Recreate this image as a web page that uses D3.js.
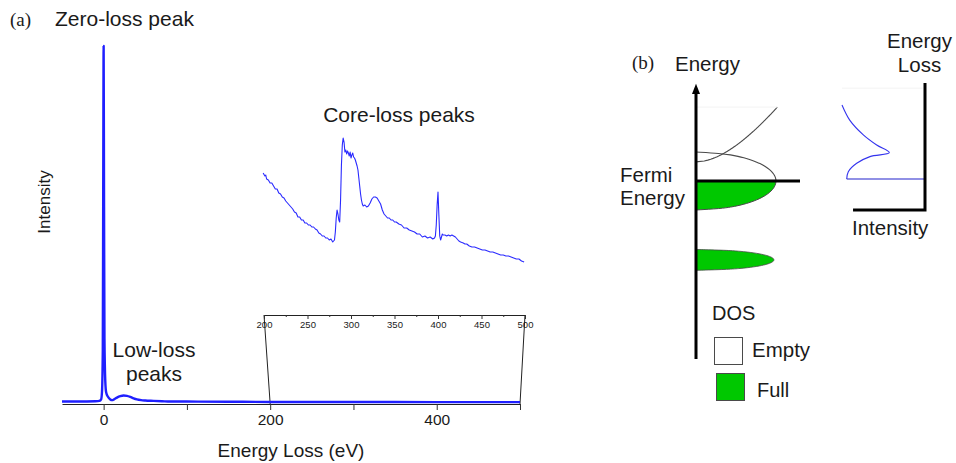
<!DOCTYPE html>
<html>
<head>
<meta charset="utf-8">
<script src="https://cdn.jsdelivr.net/npm/d3@7"></script>
<style>
  html, body { margin: 0; padding: 0; background: #fff; }
  svg { display: block; }
  text { font-family: "Liberation Sans", Arial, sans-serif; fill: #1a1a1a; }
  .serif { font-family: "Liberation Serif", "Times New Roman", serif; }
</style>
</head>
<body>
<svg id="chart" width="956" height="463"></svg>
<script>
// ---------- (a) full EELS spectrum ----------
const lowE = [-50, -30, -10, -5, -3, -2, -1, -0.5, 0, 0.5, 1, 2, 3, 5, 8, 10, 13, 16, 20, 24, 28, 32, 36, 40, 45, 50, 60, 70, 80, 100, 150, 200, 300, 400, 500];
const lowI = [0.4, 0.4, 0.5, 0.6, 1, 3, 15, 60, 100, 55, 18, 6, 3, 1.8, 1.0, 0.8, 1.1, 1.5, 1.9, 2.1, 2.0, 1.7, 1.3, 1.0, 0.8, 0.7, 0.6, 0.5, 0.4, 0.4, 0.35, 0.3, 0.3, 0.25, 0.25];
const mainTicks = [0, 100, 200, 300, 400, 500];
const mainLabels = [0, 200, 400];

// ---------- core-loss region (200–500 eV) ----------
const coreE = [199, 201, 202, 203, 205, 207, 209, 211, 213, 215, 217, 219, 221, 223, 225, 227, 229, 231, 233, 235, 237, 239, 241, 243, 245, 247, 249, 251, 253, 255, 257, 259, 261, 263, 265, 267, 269, 271, 273, 275, 277, 279, 281, 282, 283, 284, 285, 286, 287, 288, 289, 290, 291, 292, 293, 294, 295, 296, 297, 298, 299, 300, 301, 302, 303, 304, 305, 306, 307, 308, 309, 310, 311, 312, 313, 314, 316, 318, 320, 322, 324, 326, 328, 330, 332, 334, 336, 338, 340, 342, 344, 346, 348, 350, 352, 355, 358, 361, 364, 367, 370, 373, 376, 379, 382, 385, 388, 391, 394, 396, 397, 398, 399, 400, 401, 402, 403, 404, 405, 406, 408, 410, 412, 414, 416, 418, 420, 422, 424, 426, 429, 431, 433, 436, 439, 442, 445, 448, 451, 454, 457, 460, 463, 466, 469, 472, 475, 478, 481, 484, 487, 490, 493, 496, 499];
const coreI = [97, 94, 95, 91, 90, 87, 87, 84, 81, 81, 77, 76, 73, 72, 69, 67, 65, 63, 61, 58, 57, 53, 53, 50, 50, 47, 47, 45, 45, 43, 43, 41, 40, 37, 36, 34, 34, 32, 32, 30, 31, 28, 30, 38, 52, 60, 56, 50, 48, 70, 105, 125, 132, 128, 118, 120, 116, 119, 117, 114, 118, 112, 115, 117, 113, 112, 110, 107, 104, 100, 92, 84, 76, 70, 66, 64, 65, 63, 64, 67, 71, 73, 73, 72, 69, 66, 60, 56, 54, 52, 52, 50, 50, 48, 48, 46, 45, 42, 42, 40, 39, 38, 36, 36, 33, 34, 32, 33, 31, 32, 34, 45, 65, 78, 55, 34, 30, 33, 36, 35, 35, 34, 35, 34, 35, 34, 33, 31, 29, 28, 27, 26, 26, 24, 23, 23, 22, 21, 20, 20, 19, 18, 18, 17, 16, 15, 15, 14, 14, 13, 12, 11, 11, 9, 8];
const coreTicks = [200, 250, 300, 350, 400, 450, 500];
const coreMinor = [225, 275, 325, 375, 425, 475];

// ---------- (b) schematic density of states (energy relative to E_F) ----------
const bandE = d3.range(-1, 1.0001, 0.05);                 // band straddling E_F
const lowBandE = d3.range(-0.36, 0.36001, 0.03);          // deep, filled band
const lowBandCentre = -2.72;
const freeE = d3.range(0.66, 2.5501, 0.03);               // free-electron-like states above E_F
const lossE = [2.62, 2.10, 1.59, 1.24, 0.976, 0.84, 0.61, 0.32, 0.07];
const lossI = [0.0, 0.093, 0.257, 0.418, 0.57, 0.337, 0.177, 0.076, 0.057];

const svg = d3.select("#chart");

// ---- panel (a) scales ----
const x = d3.scaleLinear().domain([-50, 500]).range([62, 520]);
const y = d3.scaleLinear().domain([0, 100]).range([403, 46]);
const xi = d3.scaleLinear().domain([200, 500]).range([264, 525]);
const yi = d3.scaleLinear().domain([0, 140]).range([270, 130]);

// main axis
const axMain = svg.append("g").attr("transform", "translate(0,404)")
  .call(d3.axisBottom(x).tickValues(mainTicks).tickSize(6).tickSizeOuter(0)
    .tickFormat(d => mainLabels.includes(d) ? d : ""));
axMain.select(".domain").attr("stroke", "#222").attr("stroke-width", 1.2);
axMain.selectAll(".tick line").attr("stroke", "#333");
axMain.selectAll(".tick text").attr("font-size", 15.5).attr("dy", 12).attr("fill", "#1a1a1a")
  .attr("font-family", "Liberation Sans, Arial, sans-serif");

// connectors from inset axis to main axis
const conn = [[200, 200], [500, 500]];
svg.append("g").selectAll("line").data(conn).join("line")
  .attr("x1", d => xi(d[0])).attr("y1", 315)
  .attr("x2", d => x(d[1])).attr("y2", 404)
  .attr("stroke", "#222").attr("stroke-width", 1);

// main spectrum
svg.append("path")
  .datum(lowE.map((e, i) => [e, lowI[i]]))
  .attr("fill", "none").attr("stroke", "#1f1fff").attr("stroke-width", 2.4)
  .attr("stroke-linejoin", "round")
  .attr("d", d3.line().x(d => x(d[0])).y(d => y(d[1])).curve(d3.curveMonotoneX));

// inset axis
const axIn = svg.append("g").attr("transform", "translate(0,315)")
  .call(d3.axisBottom(xi).tickValues(coreTicks).tickSize(4).tickSizeOuter(0));
axIn.select(".domain").attr("stroke", "#222").attr("stroke-width", 1);
axIn.selectAll(".tick line").attr("stroke", "#333");
axIn.selectAll(".tick text").attr("font-size", 9.5).attr("dy", 6).attr("fill", "#333")
  .attr("font-family", "Liberation Sans, Arial, sans-serif");
const axInMinor = svg.append("g").attr("transform", "translate(0,315)")
  .call(d3.axisBottom(xi).tickValues(coreMinor).tickSize(2).tickFormat(""));
axInMinor.select(".domain").remove();
axInMinor.selectAll(".tick line").attr("stroke", "#333");

// inset spectrum
svg.append("path")
  .datum(coreE.map((e, i) => [e, coreI[i]]))
  .attr("fill", "none").attr("stroke", "#2a2aff").attr("stroke-width", 1.1)
  .attr("stroke-linejoin", "round")
  .attr("d", d3.line().x(d => xi(d[0])).y(d => yi(d[1])));

// panel (a) text
svg.append("text").attr("class", "serif").attr("x", 10).attr("y", 26).attr("font-size", 19).text("(a)");
svg.append("text").attr("x", 55).attr("y", 26).attr("font-size", 21).text("Zero-loss peak");
svg.append("text").attr("x", 399).attr("y", 122).attr("font-size", 21).attr("text-anchor", "middle").text("Core-loss peaks");
svg.append("text").attr("x", 154).attr("y", 357).attr("font-size", 21).attr("text-anchor", "middle").text("Low-loss");
svg.append("text").attr("x", 154).attr("y", 381).attr("font-size", 21).attr("text-anchor", "middle").text("peaks");
svg.append("text").attr("x", 291).attr("y", 457).attr("font-size", 19).attr("text-anchor", "middle").text("Energy Loss (eV)");
svg.append("text").attr("transform", "translate(50,202) rotate(-90)").attr("font-size", 17)
  .attr("text-anchor", "middle").text("Intensity");

// ---- panel (b) ----
const bx = d3.scaleLinear().domain([0, 1]).range([696, 776]);     // density of states
const by = d3.scaleLinear().domain([0, 1]).range([181, 152]);     // energy, E_F = 0
const rx = d3.scaleLinear().domain([0, 1]).range([842, 925]);     // loss intensity

const green = "#00c800";
const outline = "#4a4a4a";

// band across E_F: filled lower half, empty upper half
const dosBand = e => Math.sqrt(Math.max(0, 1 - e * e));
const filled = bandE.filter(e => e <= 0.0001);
const empty = bandE.filter(e => e >= -0.0001);
const areaB = d3.area().y(d => by(d)).x0(bx(0)).x1(d => bx(dosBand(d))).curve(d3.curveBasis);
svg.append("path").datum(filled).attr("d", areaB).attr("fill", green).attr("stroke", "none");
const lineB = d3.line().y(d => by(d)).x(d => bx(dosBand(d))).curve(d3.curveBasis);
svg.append("path").datum(filled).attr("d", lineB).attr("fill", "none").attr("stroke", outline).attr("stroke-width", 1);
svg.append("path").datum(empty).attr("d", lineB).attr("fill", "none").attr("stroke", outline).attr("stroke-width", 1.1);

// deep filled band
const dosLow = e => Math.sqrt(Math.max(0, 1 - (e / 0.36) * (e / 0.36))) * 0.975;
const areaLow = d3.area().y(d => by(lowBandCentre + d)).x0(bx(0)).x1(d => bx(dosLow(d))).curve(d3.curveBasis);
svg.append("path").datum(lowBandE).attr("d", areaLow).attr("fill", green).attr("stroke", "none");
svg.append("path").datum(lowBandE)
  .attr("d", d3.line().y(d => by(lowBandCentre + d)).x(d => bx(dosLow(d))).curve(d3.curveBasis))
  .attr("fill", "none").attr("stroke", outline).attr("stroke-width", 0.8);

// free-electron-like empty states
const dosFree = e => 0.575 * Math.sqrt(e - 0.66) + (e - 0.66) * 0.12;
svg.append("path").datum(freeE)
  .attr("d", d3.line().y(d => by(d)).x(d => bx(dosFree(d))))
  .attr("fill", "none").attr("stroke", outline).attr("stroke-width", 1.1);

// faint guide lines
svg.append("line").attr("x1", bx(0)).attr("x2", bx(1.02)).attr("y1", by(2.55)).attr("y2", by(2.55))
  .attr("stroke", "#f3f3f3").attr("stroke-width", 1);
svg.append("line").attr("x1", rx(0)).attr("x2", rx(0.97)).attr("y1", by(3.2)).attr("y2", by(3.2))
  .attr("stroke", "#f3f3f3").attr("stroke-width", 1);

// energy axis with arrow
svg.append("line").attr("x1", bx(0)).attr("x2", bx(0)).attr("y1", by(-6.14)).attr("y2", by(3.1))
  .attr("stroke", "#000").attr("stroke-width", 3);
svg.append("path")
  .attr("d", `M${bx(0)},${by(3.35)} L${bx(0) - 4},${by(3.0)} L${bx(0) + 4},${by(3.0)} Z`)
  .attr("fill", "#000");
// Fermi level
svg.append("line").attr("x1", bx(0)).attr("x2", bx(1.3)).attr("y1", by(0)).attr("y2", by(0))
  .attr("stroke", "#000").attr("stroke-width", 3);

// energy-loss edge schematic
svg.append("path")
  .datum(lossE.map((e, i) => [e, lossI[i]]))
  .attr("d", d3.line().x(d => rx(d[1])).y(d => by(d[0])).curve(d3.curveCatmullRom))
  .attr("fill", "none").attr("stroke", "#3333ee").attr("stroke-width", 1.1);
svg.append("line").attr("x1", rx(lossI[lossI.length - 1])).attr("x2", rx(1)).attr("y1", by(0.07)).attr("y2", by(0.07))
  .attr("stroke", "#2222cc").attr("stroke-width", 1.1);
svg.append("path")
  .attr("d", `M${rx(0.133)},${by(-1)} L${rx(1)},${by(-1)} L${rx(1)},${by(3.38)}`)
  .attr("fill", "none").attr("stroke", "#000").attr("stroke-width", 3);

// legend
svg.append("rect").attr("x", 714.5).attr("y", 337.5).attr("width", 28).attr("height", 27)
  .attr("fill", "#fff").attr("stroke", outline).attr("stroke-width", 1);
svg.append("rect").attr("x", 716.5).attr("y", 373.5).attr("width", 28).attr("height", 27)
  .attr("fill", green).attr("stroke", outline).attr("stroke-width", 1);

// panel (b) text
svg.append("text").attr("class", "serif").attr("x", 632).attr("y", 69).attr("font-size", 19).text("(b)");
svg.append("text").attr("x", 675).attr("y", 71).attr("font-size", 20.5).text("Energy");
svg.append("text").attr("x", 620).attr("y", 182).attr("font-size", 20.5).text("Fermi");
svg.append("text").attr("x", 620).attr("y", 205).attr("font-size", 20.5).text("Energy");
svg.append("text").attr("x", 919.5).attr("y", 48).attr("font-size", 20.5).attr("text-anchor", "middle").text("Energy");
svg.append("text").attr("x", 919.5).attr("y", 72).attr("font-size", 20.5).attr("text-anchor", "middle").text("Loss");
svg.append("text").attr("x", 852).attr("y", 235).attr("font-size", 20.5).text("Intensity");
svg.append("text").attr("x", 712).attr("y", 320).attr("font-size", 20).text("DOS");
svg.append("text").attr("x", 752).attr("y", 357).attr("font-size", 20.5).text("Empty");
svg.append("text").attr("x", 757).attr("y", 397).attr("font-size", 20).text("Full");
</script>
</body>
</html>
